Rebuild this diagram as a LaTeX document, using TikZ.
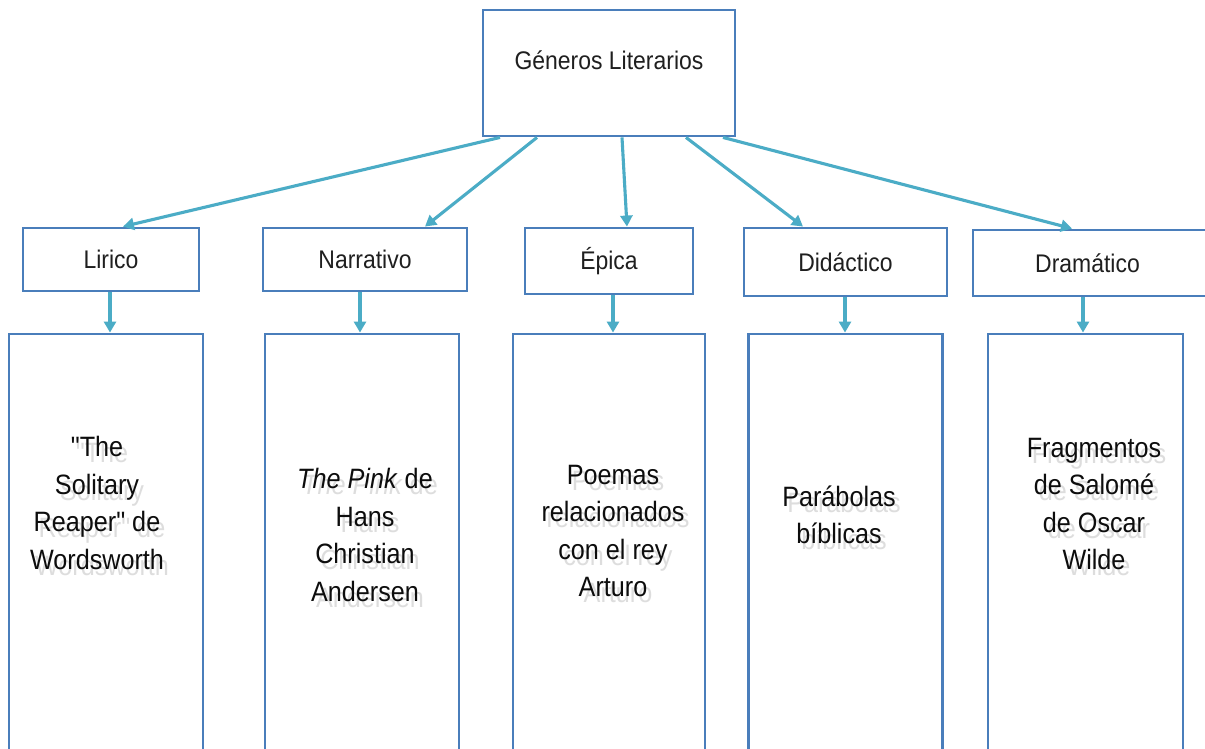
\documentclass[tikz,border=0pt]{standalone}
\usepackage{fontspec}
\setmainfont[FakeStretch=0.9, Ligatures=TeXOff]{Liberation Sans}
\usetikzlibrary{arrows.meta}
\definecolor{boxblue}{HTML}{4A7EBB}
\definecolor{arrowteal}{HTML}{4BACC6}
\tikzset{
  box/.style={draw=boxblue, line width=2.9pt, fill=white, inner sep=0pt},
  conn/.style={draw=arrowteal, line width=3.1pt, -{Triangle[length=11pt,width=12pt]}},
  lbl/.style={font=\fontsize{25.5}{29}\selectfont, text=black!88},
  bigtext/.style={font=\fontsize{28}{37.5}\selectfont, align=center, text=black!95},
  softshadow/.style={bigtext, text=black!60, opacity=0.22},
}
\begin{document}
\begin{tikzpicture}[x=1pt,y=-1pt]
\useasboundingbox (0,0) rectangle (1205,749);
\fill[white] (0,0) rectangle (1205,749);
\clip (0,0) rectangle (1205,749);

% top box
\node[box, minimum width=252pt, minimum height=126pt,
      label={[lbl, yshift=13pt]center:Géneros Literarios}] (top) at (609,73) {};

% second level boxes
\node[box, lbl, minimum width=176pt, minimum height=63pt] (lir) at (111,259.5) {Lirico};
\node[box, lbl, minimum width=204pt, minimum height=63pt] (nar) at (365,259.5) {Narrativo};
\node[box, lbl, minimum width=168pt, minimum height=66pt] (epi) at (609,261) {Épica};
\node[box, lbl, minimum width=203pt, minimum height=68pt] (did) at (845.5,262) {Didáctico};
\node[box, lbl, minimum width=237pt, minimum height=66pt, text depth=0pt] (dra) at (1091.5,263) {\hspace*{-4pt}Dramático\hspace*{4pt}};

% bottom boxes
\node[box, minimum width=194pt, minimum height=436pt] (lirb) at (106,552) {};
\node[box, minimum width=194pt, minimum height=436pt] (narb) at (362,552) {};
\node[box, minimum width=192pt, minimum height=436pt] (epib) at (609,552) {};
\node[box, minimum width=194pt, minimum height=436pt] (didb) at (845.5,552) {};
\node[box, minimum width=195pt, minimum height=436pt] (drab) at (1085.5,552) {};

% bottom texts with soft shadow
\node[softshadow] (lirts) at (102,509) {"The\\Solitary\\Reaper" de\\Wordsworth};
\node[bigtext] (lirt) at (97,503) {"The\\Solitary\\Reaper" de\\Wordsworth};
\node[softshadow] (narts) at (370,541) {\textit{The Pink} de\\Hans\\Christian\\Andersen};
\node[bigtext] (nart) at (365,535) {\textit{The Pink} de\\Hans\\Christian\\Andersen};
\node[softshadow] (epits) at (618,537) {Poemas\\relacionados\\con el rey\\Arturo};
\node[bigtext] (epit) at (613,531) {Poemas\\relacionados\\con el rey\\Arturo};
\node[softshadow] (didts) at (844,521) {Parábolas\\bíblicas};
\node[bigtext] (didt) at (839,515) {Parábolas\\bíblicas};
\node[softshadow] (drats) at (1099,510) {Fragmentos\\de Salomé\\de Oscar\\Wilde};
\node[bigtext] (drat) at (1094,504) {Fragmentos\\de Salomé\\de Oscar\\Wilde};

% connectors from top
\draw[conn] ([xshift=-109pt]top.south) -- ([xshift=12pt]lir.north);
\draw[conn] ([xshift=-72pt]top.south) -- ([xshift=60pt]nar.north);
\draw[conn] ([xshift=13pt]top.south) -- ([xshift=18pt]epi.north);
\draw[conn] ([xshift=77pt]top.south) -- ([xshift=-42.5pt]did.north);
\draw[conn] ([xshift=114pt]top.south) -- ([xshift=-19.5pt]dra.north);

% vertical connectors
\draw[conn] ([xshift=-1pt]lir.south) -- ([xshift=-1pt]lir.south |- lirb.north);
\draw[conn] ([xshift=-5pt]nar.south) -- ([xshift=-5pt]nar.south |- narb.north);
\draw[conn] ([xshift=4pt]epi.south) -- ([xshift=4pt]epi.south |- epib.north);
\draw[conn] ([xshift=-0.5pt]did.south) -- ([xshift=-0.5pt]did.south |- didb.north);
\draw[conn] ([xshift=-8.5pt]dra.south) -- ([xshift=-8.5pt]dra.south |- drab.north);
\end{tikzpicture}
\end{document}
